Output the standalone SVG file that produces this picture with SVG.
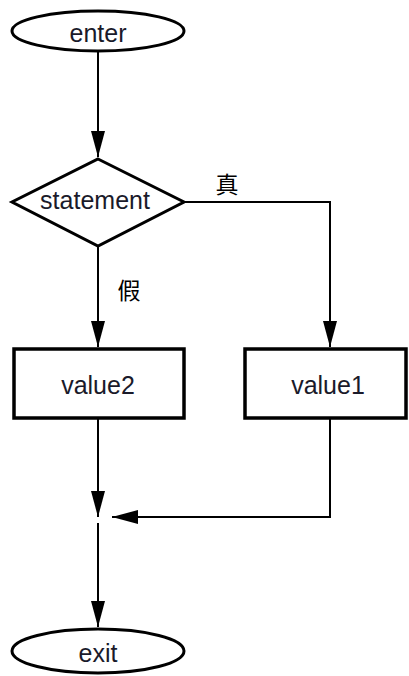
<svg xmlns="http://www.w3.org/2000/svg" width="409" height="676" viewBox="0 0 409 676">
<style>
.shape{fill:#fff;stroke:#000;stroke-width:3}
.box{fill:#fff;stroke:#000;stroke-width:3.5}
.lbl{font-family:"Liberation Sans",Arial,sans-serif;font-size:25px;fill:#1a1a2a;text-anchor:middle;dominant-baseline:central}
.cjk{font-family:"Noto Sans CJK SC","Noto Sans CJK TC",sans-serif;font-size:23px;fill:#000;text-anchor:middle;dominant-baseline:central}
.edge{fill:none;stroke:#000;stroke-width:2}
</style>
<defs>
<marker id="arrL" viewBox="0 0 26 14" refX="26" refY="7" markerWidth="26" markerHeight="14" markerUnits="userSpaceOnUse" orient="auto">
<path d="M0,0 L26,7 L0,14 z" fill="#000"/>
</marker>
</defs>
<g id="connectors">
<path class="edge" d="M98,51 L98,157" marker-end="url(#arrL)"/>
<path class="edge" d="M98,246 L98,347" marker-end="url(#arrL)"/>
<path class="edge" d="M184,202 L330,202 L330,347" marker-end="url(#arrL)"/>
<path class="edge" d="M98,419 L98,517" marker-end="url(#arrL)"/>
<path class="edge" d="M330,419 L330,517 L112,517" marker-end="url(#arrL)"/>
<path class="edge" d="M98,523 L98,627" marker-end="url(#arrL)"/>
</g>
<g id="enter">
<ellipse class="shape" cx="98" cy="31" rx="86" ry="20"/>
<text class="lbl" x="98" y="33">enter</text>
</g>
<g id="statement">
<path class="shape" d="M98,159 L184,202 L98,246 L12,202 z"/>
<text class="lbl" x="95" y="200">statement</text>
</g>
<g id="label-true"><text class="cjk" x="227" y="183">真</text></g>
<g id="label-false"><text class="cjk" x="129" y="289">假</text></g>
<g id="value2">
<rect class="box" x="14" y="349" width="170" height="69"/>
<text class="lbl" x="98" y="385">value2</text>
</g>
<g id="value1">
<rect class="box" x="245" y="349" width="161" height="69"/>
<text class="lbl" x="328" y="385">value1</text>
</g>
<g id="exit">
<ellipse class="shape" cx="98" cy="651" rx="86" ry="22"/>
<text class="lbl" x="98" y="653">exit</text>
</g>
</svg>
